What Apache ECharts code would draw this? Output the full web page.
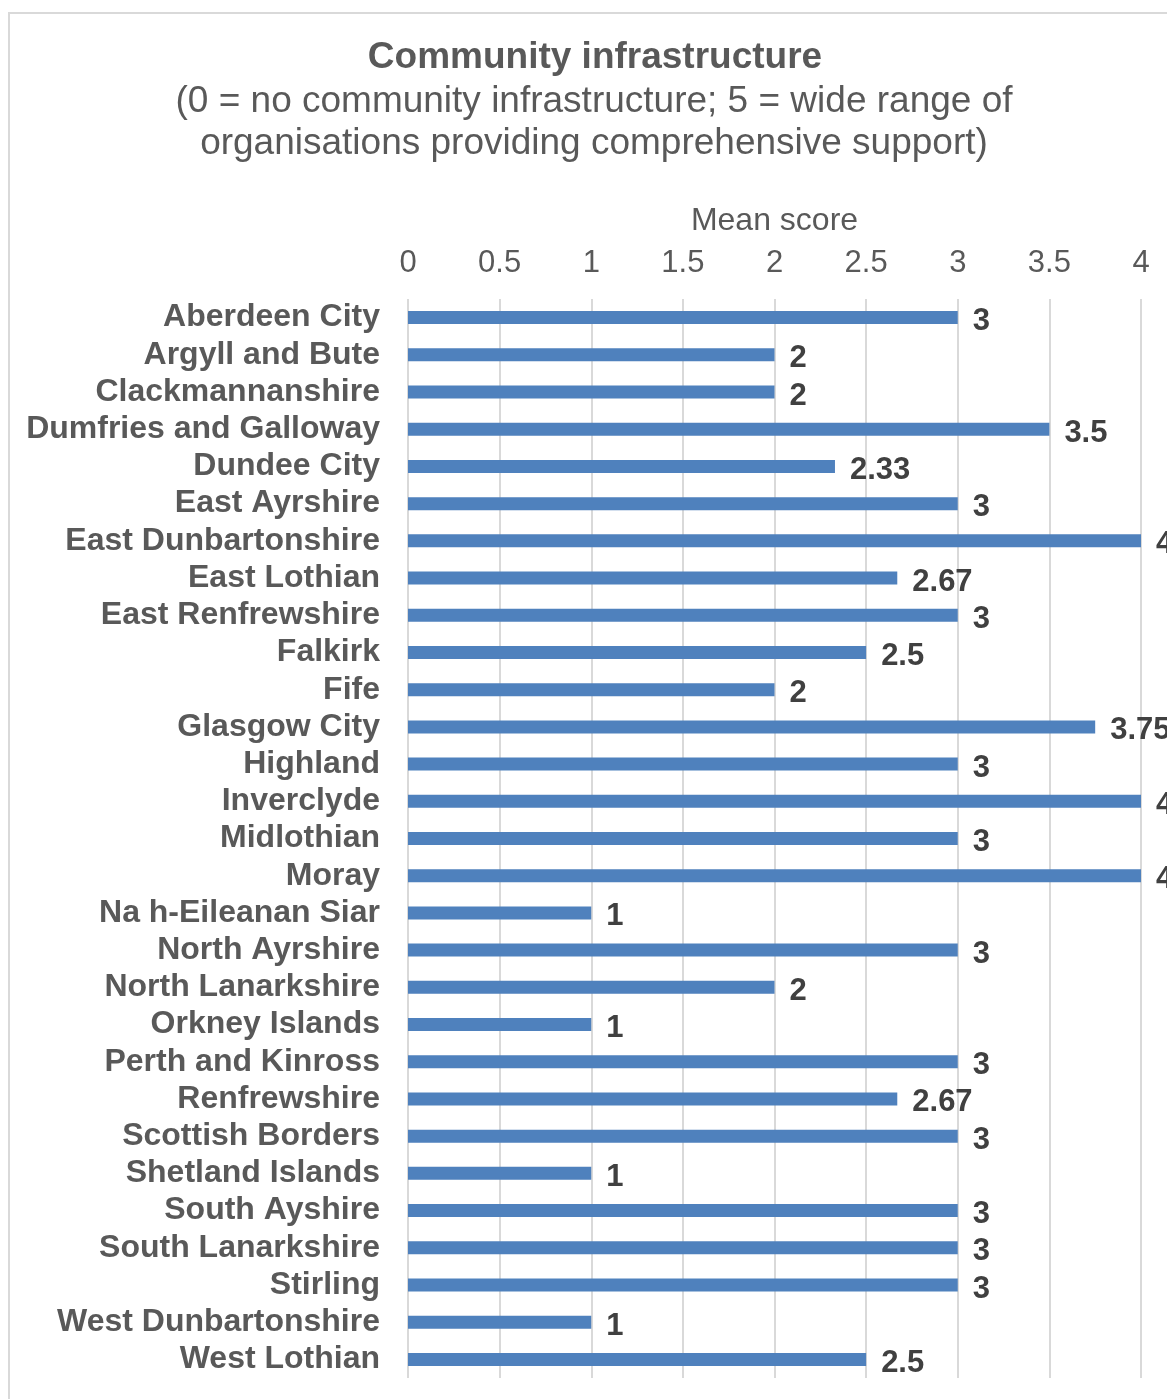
<!DOCTYPE html>
<html>
<head>
<meta charset="utf-8">
<script src="https://cdn.jsdelivr.net/npm/echarts@6/dist/echarts.min.js"></script>
<style>
  html, body { margin: 0; padding: 0; background: #fff; overflow: hidden; }
  #chart { width: 1167px; height: 1399px; }
</style>
</head>
<body>
<div id="chart"></div>
<script>
  var areaNames = ['Aberdeen City', 'Argyll and Bute', 'Clackmannanshire', 'Dumfries and Galloway',
    'Dundee City', 'East Ayrshire', 'East Dunbartonshire', 'East Lothian', 'East Renfrewshire',
    'Falkirk', 'Fife', 'Glasgow City', 'Highland', 'Inverclyde', 'Midlothian', 'Moray',
    'Na h-Eileanan Siar', 'North Ayrshire', 'North Lanarkshire', 'Orkney Islands',
    'Perth and Kinross', 'Renfrewshire', 'Scottish Borders', 'Shetland Islands',
    'South Ayshire', 'South Lanarkshire', 'Stirling', 'West Dunbartonshire', 'West Lothian']
  var meanScores = [3, 2, 2, 3.5, 2.33, 3, 4, 2.67, 3, 2.5, 2, 3.75, 3, 4, 3, 4,
    1, 3, 2, 1, 3, 2.67, 3, 1, 3, 3, 3, 1, 2.5]
  var axisMin = 0
  var axisMax = 4
  var axisStep = 0.5

  var font = '"Liberation Sans", Arial, sans-serif'
  var chart = echarts.init(document.getElementById('chart'), null, {renderer: 'canvas'})
  var option = {
    animation: false,
    backgroundColor: '#ffffff',
    title: [
      {
        text: 'Community infrastructure',
        left: 590,
        top: 34,
        textAlign: 'center',
        textStyle: {fontFamily: font, fontSize: 37, fontWeight: 'bold', color: '#595959'}
      },
      {
        text: '(0 = no community infrastructure; 5 = wide range of\norganisations providing comprehensive support)',
        left: 589,
        top: 76,
        textAlign: 'center',
        textStyle: {fontFamily: font, fontSize: 37, fontWeight: 'normal', color: '#595959', lineHeight: 42}
      }
    ],
    graphic: [{
      type: 'rect',
      shape: {x: 9, y: 13, width: 1400, height: 1500},
      style: {fill: 'none', stroke: '#d9d9d9', lineWidth: 2},
      silent: true
    }],
    grid: {left: 408, top: 299, width: 733, height: 1079, containLabel: false},
    xAxis: {
      type: 'value',
      position: 'top',
      min: axisMin,
      max: axisMax,
      interval: axisStep,
      name: 'Mean score',
      nameLocation: 'middle',
      nameGap: 62,
      nameTextStyle: {fontFamily: font, fontSize: 32, color: '#595959'},
      axisLine: {show: false},
      axisTick: {show: false},
      axisLabel: {fontFamily: font, fontSize: 31, color: '#595959', margin: 20},
      splitLine: {lineStyle: {color: '#d9d9d9', width: 2}}
    },
    yAxis: {
      type: 'category',
      inverse: true,
      data: areaNames,
      axisLine: {show: false},
      axisTick: {show: false},
      axisLabel: {
        interval: 0,
        fontFamily: font,
        fontSize: 32,
        fontWeight: 'bold',
        color: '#595959',
        margin: 28,
        padding: [7, 0, 0, 0]
      }
    },
    series: [{
      type: 'bar',
      data: meanScores,
      barWidth: 13,
      itemStyle: {color: '#4f81bd'},
      label: {
        show: true,
        position: 'right',
        distance: 15,
        offset: [0, 4],
        fontFamily: font,
        fontSize: 31,
        fontWeight: 'bold',
        color: '#404040'
      }
    }]
  }
  chart.setOption(option)
</script>
</body>
</html>
